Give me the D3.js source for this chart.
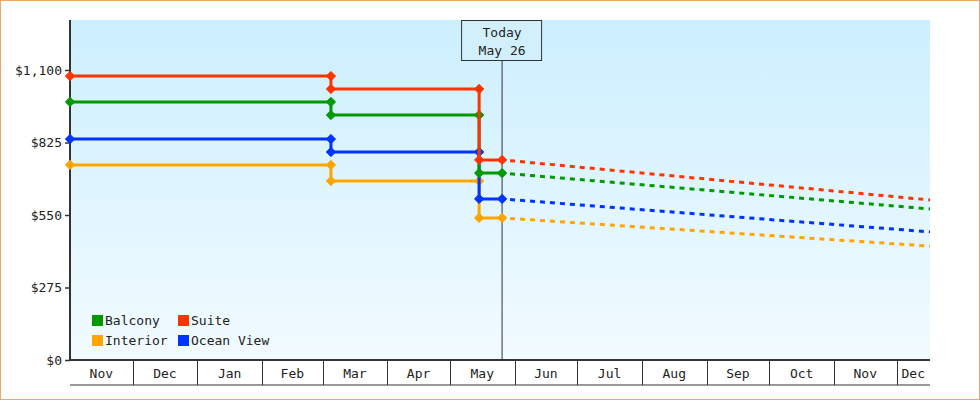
<!DOCTYPE html><html><head><meta charset="utf-8">
<script src="https://cdn.jsdelivr.net/npm/d3@7"></script>
<style>body{margin:0;background:#fff}svg{display:block}text{font-family:"DejaVu Sans Mono",monospace;fill:#222}</style></head><body>
<script>
const seriesNames=["Balcony","Suite","Interior","Ocean View"];
const colors=["#009900","#ff3300","#ffa500","#0033ff"];
const histDates=["2023-11-01","2024-03-05","2024-03-05","2024-05-15","2024-05-15","2024-05-26"];
const histValues={
 "Suite":[1077,1077,1028,1028,759,759],
 "Balcony":[979,979,929,929,709,709],
 "Ocean View":[838,838,789,789,611,611],
 "Interior":[740,740,679,679,539,539]};
const forecastDates=["2024-05-26","2024-12-17"];
const forecastValues={"Suite":[759,607],"Balcony":[709,573],"Ocean View":[611,486],"Interior":[539,432]};
const yTicks=[0,275,550,825,1100];
const monthStarts=["2023-11-01","2023-12-01","2024-01-01","2024-02-01","2024-03-01","2024-04-01","2024-05-01","2024-06-01","2024-07-01","2024-08-01","2024-09-01","2024-10-01","2024-11-01","2024-12-01","2024-12-17"];
const monthLabels=["Nov","Dec","Jan","Feb","Mar","Apr","May","Jun","Jul","Aug","Sep","Oct","Nov","Dec"];
const todayDate="2024-05-26", todayLabel=["Today","May 26"];

const W=980,H=400,L=70,R=930,T=20,B=360;
const p=d3.utcParse("%Y-%m-%d");
const svg=d3.select("body").append("svg").attr("width",W).attr("height",H);
svg.append("rect").attr("x",0.5).attr("y",0.5).attr("width",W-1).attr("height",H-1).attr("fill","#fff").attr("stroke","#e8a868");
const defs=svg.append("defs");
const g=defs.append("linearGradient").attr("id","bg").attr("x1",0).attr("x2",0).attr("y1",0).attr("y2",1);
g.append("stop").attr("offset","0").attr("stop-color","#ccefff");
g.append("stop").attr("offset","1").attr("stop-color","#f2fbff");
svg.append("rect").attr("x",L).attr("y",T).attr("width",R-L).attr("height",B-T).attr("fill","url(#bg)");
const x=d3.scaleUtc().domain([p(monthStarts[0]),p(monthStarts[monthStarts.length-1])]).range([L,R]);
const y=d3.scaleLinear().domain([0,1100*(B-T)/290]).range([B,T]);
// y axis
const ya=svg.append("g").attr("transform",`translate(${L},0)`).call(d3.axisLeft(y).tickValues(yTicks).tickSize(5).tickFormat(d=>"$"+d3.format(",")(d)));
ya.select(".domain").remove();
ya.selectAll("line").attr("stroke","#333").attr("stroke-width",1.5);
ya.selectAll("text").attr("font-size",13).attr("font-family","DejaVu Sans Mono").attr("fill","#222");
svg.append("line").attr("x1",L).attr("x2",L).attr("y1",T).attr("y2",B).attr("stroke","#333").attr("stroke-width",2);
// x axis cells
svg.append("line").attr("x1",L).attr("x2",R).attr("y1",B).attr("y2",B).attr("stroke","#333").attr("stroke-width",2);
svg.append("line").attr("x1",L).attr("x2",R).attr("y1",385).attr("y2",385).attr("stroke","#333");
monthLabels.forEach((m,i)=>{
 const a=x(p(monthStarts[i])),b=x(p(monthStarts[i+1]));
 if(i>0)svg.append("line").attr("x1",Math.round(a)+0.5).attr("x2",Math.round(a)+0.5).attr("y1",B).attr("y2",385).attr("stroke","#333");
 svg.append("text").attr("x",(a+b)/2).attr("y",378).attr("text-anchor","middle").attr("font-size",13).text(m);
});
// today
const tx=x(p(todayDate));
svg.append("line").attr("x1",tx).attr("x2",tx).attr("y1",60).attr("y2",B).attr("stroke","#333");
svg.append("rect").attr("x",tx-40.5).attr("y",20.5).attr("width",80).attr("height",40).attr("fill","#d2f0fc").attr("stroke","#333");
todayLabel.forEach((t,i)=>svg.append("text").attr("x",tx).attr("y",37+i*18).attr("text-anchor","middle").attr("font-size",13).text(t));
const line=d3.line().x(d=>x(d[0])).y(d=>y(d[1]));
const order=["Interior","Ocean View","Balcony","Suite"];
order.forEach(n=>{
 const c=colors[seriesNames.indexOf(n)];
 const fd=forecastDates.map((d,i)=>[p(d),forecastValues[n][i]]);
 svg.append("path").attr("d",line(fd)).attr("fill","none").attr("stroke",c).attr("stroke-width",3).attr("stroke-dasharray","5,5").attr("stroke-dashoffset",-8);
});
order.forEach(n=>{
 const c=colors[seriesNames.indexOf(n)];
 const hd=histDates.map((d,i)=>[p(d),histValues[n][i]]);
 svg.append("path").attr("d",line(hd)).attr("fill","none").attr("stroke",c).attr("stroke-width",3);
 svg.selectAll(null).data(hd).join("path").attr("transform",d=>`translate(${x(d[0])},${y(d[1])})`)
  .attr("d",d3.symbol(d3.symbolDiamond2,55)).attr("fill",c).attr("stroke",c).attr("stroke-width",1);
});
// legend
seriesNames.forEach((n,i)=>{
 const lx=92+(i%2)*86, ly=315+Math.floor(i/2)*20;
 svg.append("rect").attr("x",lx).attr("y",ly).attr("width",11).attr("height",11).attr("fill",colors[i]);
 svg.append("text").attr("x",lx+13).attr("y",ly+10).attr("font-size",13).text(n);
});
</script></body></html>
